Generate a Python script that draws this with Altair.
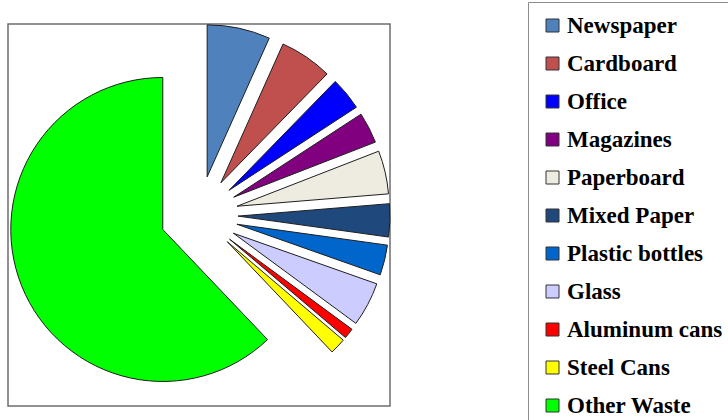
import altair as alt
import pandas as pd

categories = ["Newspaper", "Cardboard", "Office", "Magazines", "Paperboard",
              "Mixed Paper", "Plastic bottles", "Glass", "Aluminum cans",
              "Steel Cans", "Other Waste"]
values = [6.7, 5.6, 3.5, 3.3, 4.6, 3.5, 3.2, 4.7, 1.1, 1.7, 62.1]
colors = ["#4F81BD", "#C0504D", "#0000FF", "#800080", "#EEECE1",
          "#1F497D", "#0066CC", "#CCCCFF", "#FF0000", "#FFFF00", "#00FF00"]

df = pd.DataFrame({"category": categories, "value": values,
                   "idx": list(range(len(categories)))})

W = H = 382
CX, CY = W / 2, H / 2
EXPLODE = 39
RADIUS = 152

pie = (
    alt.Chart(df)
    .transform_joinaggregate(total="sum(value)")
    .transform_window(cum="sum(value)", sort=[alt.SortField("idx")], frame=[None, 0])
    .transform_calculate(start="2*PI*(datum.cum - datum.value)/datum.total")
    .transform_calculate(end="2*PI*datum.cum/datum.total")
    .transform_calculate(mid="(datum.start + datum.end)/2")
    .transform_calculate(px=f"{CX} + {EXPLODE}*sin(datum.mid)")
    .transform_calculate(py=f"{CY} - {EXPLODE}*cos(datum.mid)")
    .mark_arc(outerRadius=RADIUS, stroke="#1e1e1e", strokeWidth=1)
    .encode(
        theta=alt.Theta("start:Q", scale=None, stack=None),
        theta2=alt.Theta2("end:Q"),
        x=alt.X("px:Q", scale=None),
        y=alt.Y("py:Q", scale=None),
        color=alt.Color(
            "category:N",
            scale=alt.Scale(domain=categories, range=colors),
            sort=categories,
            legend=alt.Legend(
                title=None,
                orient="none",
                legendX=520,
                legendY=-22,
                direction="vertical",
                symbolType="square",
                symbolSize=169,
                symbolStrokeColor="#333333",
                symbolStrokeWidth=1,
                symbolOpacity=1,
                symbolOffset=1,
                labelFont="Times New Roman, Liberation Serif, serif",
                labelFontSize=23,
                labelFontWeight="bold",
                labelColor="black",
                labelLimit=0,
                labelOffset=3,
                rowPadding=14,
                padding=12,
                strokeColor="#8c8c8c",
                fillColor="white",
            ),
        ),
    )
)

chart = (
    pie.properties(
        width=W,
        height=H,
        autosize=alt.AutoSizeParams(type="none"),
        padding={"left": 8, "top": 24, "right": 338, "bottom": 14},
        background="white",
    )
    .configure_view(stroke="#6e6e6e", strokeWidth=1.5)
)

chart.save("out.html", embed_options={"renderer": "svg", "actions": False})
